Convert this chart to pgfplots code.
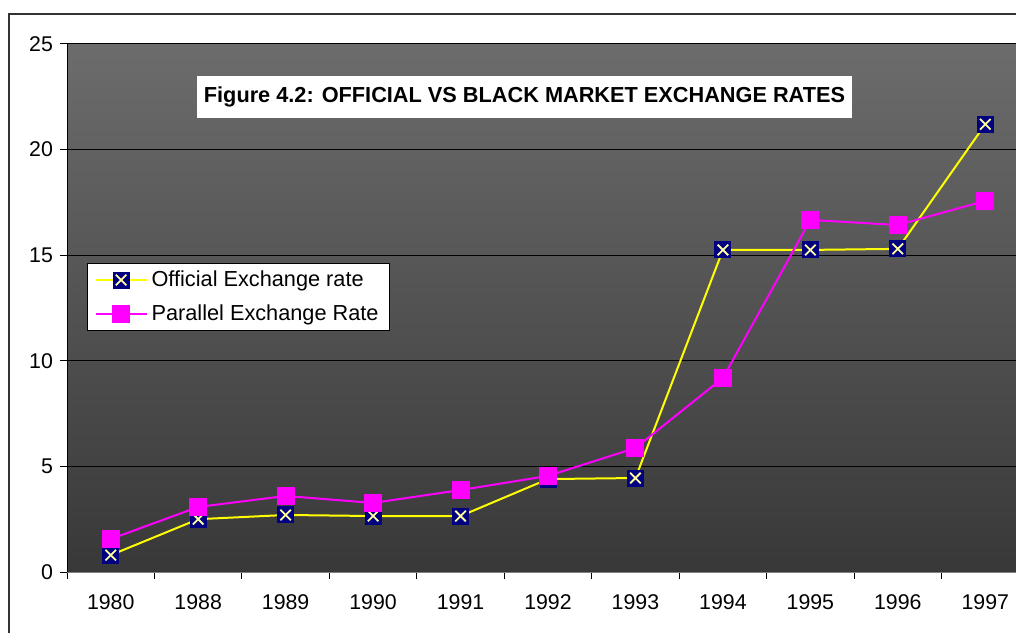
\documentclass[border=0pt]{standalone}
\usepackage{fontspec}
\setmainfont{Liberation Sans}
\usepackage{pgfplots}
\pgfplotsset{compat=1.18}
\definecolor{navy}{HTML}{000080}
\definecolor{xyel}{HTML}{FFFFA0}
\definecolor{mag}{HTML}{FF00FF}
\definecolor{yel}{HTML}{FFFF00}
\definecolor{bgtop}{HTML}{6C6C6C}
\definecolor{bgbot}{HTML}{383838}
\pgfdeclareplotmark{sqx}{%
  \pgfpathrectangle{\pgfqpoint{-\pgfplotmarksize}{-\pgfplotmarksize}}{\pgfqpoint{2\pgfplotmarksize}{2\pgfplotmarksize}}%
  \pgfsetfillcolor{navy}\pgfusepath{fill}%
  \pgfpathmoveto{\pgfqpoint{-0.62\pgfplotmarksize}{-0.62\pgfplotmarksize}}%
  \pgfpathlineto{\pgfqpoint{0.62\pgfplotmarksize}{0.62\pgfplotmarksize}}%
  \pgfpathmoveto{\pgfqpoint{-0.62\pgfplotmarksize}{0.62\pgfplotmarksize}}%
  \pgfpathlineto{\pgfqpoint{0.62\pgfplotmarksize}{-0.62\pgfplotmarksize}}%
  \pgfsetstrokecolor{xyel}\pgfsetlinewidth{0.9bp}\pgfusepath{stroke}%
}
\pgfplotstableread{
x off par
0 0.80 1.56
1 2.50 3.08
2 2.70 3.60
3 2.65 3.27
4 2.65 3.88
5 4.40 4.55
6 4.45 5.87
7 15.25 9.19
8 15.25 16.67
9 15.30 16.43
10 21.20 17.57
}\rates
\begin{document}
\begin{tikzpicture}
\begin{axis}[
  at={(33.5bp,30.5bp)}, anchor=south west,
  width=481bp, height=264bp, scale only axis,
  xmin=-0.5, xmax=10.5, ymin=0, ymax=25,
  axis lines=left, axis line style={-},
  x axis line style={draw=gray},
  y axis line style={draw=black},
  xtick={0,...,10},
  xticklabels={1980,1988,1989,1990,1991,1992,1993,1994,1995,1996,1997},
  major x tick style={draw=none},
  minor xtick={-0.5,0.5,...,10.5},
  ytick={0,5,...,25},
  tick align=outside,
  major tick length=3.5bp, minor tick length=3.5bp,
  tick style={black, line width=0.5bp},
  ymajorgrids, grid style={black, line width=0.5bp},
  axis background/.style={shade, top color=bgtop, bottom color=bgbot},
  /pgf/number format/assume math mode=true,
  tick label style={font=\fontsize{10.7}{12}\selectfont},
  xticklabel style={yshift=-4.5bp},
  legend style={at={(0.0208,0.585)}, anchor=north west, draw=black, fill=white,
     font=\fontsize{10.9}{13}\selectfont, inner xsep=3.5bp, inner ysep=1.5bp, row sep=3.5bp, line width=0.6bp},
  legend cell align=left,
  legend image code/.code={\draw[mark repeat=2,mark phase=2,#1] plot coordinates {(0bp,0bp) (12.75bp,0bp) (25.5bp,0bp)};},
]
\addplot[yel, line width=1bp, mark=sqx, mark size=4.25bp, mark options={solid}] table[x=x,y=off] {\rates};
\addlegendentry{Official Exchange rate}
\addplot[mag, line width=1bp, mark=square*, mark size=4bp, mark options={solid, fill=mag, draw=mag}] table[x=x,y=par] {\rates};
\addlegendentry{Parallel Exchange Rate\hspace{9bp}}
\end{axis}
\node[fill=white, minimum width=327.5bp, minimum height=21bp, inner sep=0pt,
  font=\bfseries\fontsize{10.9}{13}\selectfont] at (262.25bp,268bp)
  {Figure 4.2: OFFICIAL VS BLACK MARKET EXCHANGE RATES};
\draw[line width=1bp, draw=black!80] (4.5bp,309.5bp) rectangle (530bp,-20bp);
\pgfresetboundingbox
\useasboundingbox (0,0) rectangle (508bp,316.5bp);
\end{tikzpicture}
\end{document}
